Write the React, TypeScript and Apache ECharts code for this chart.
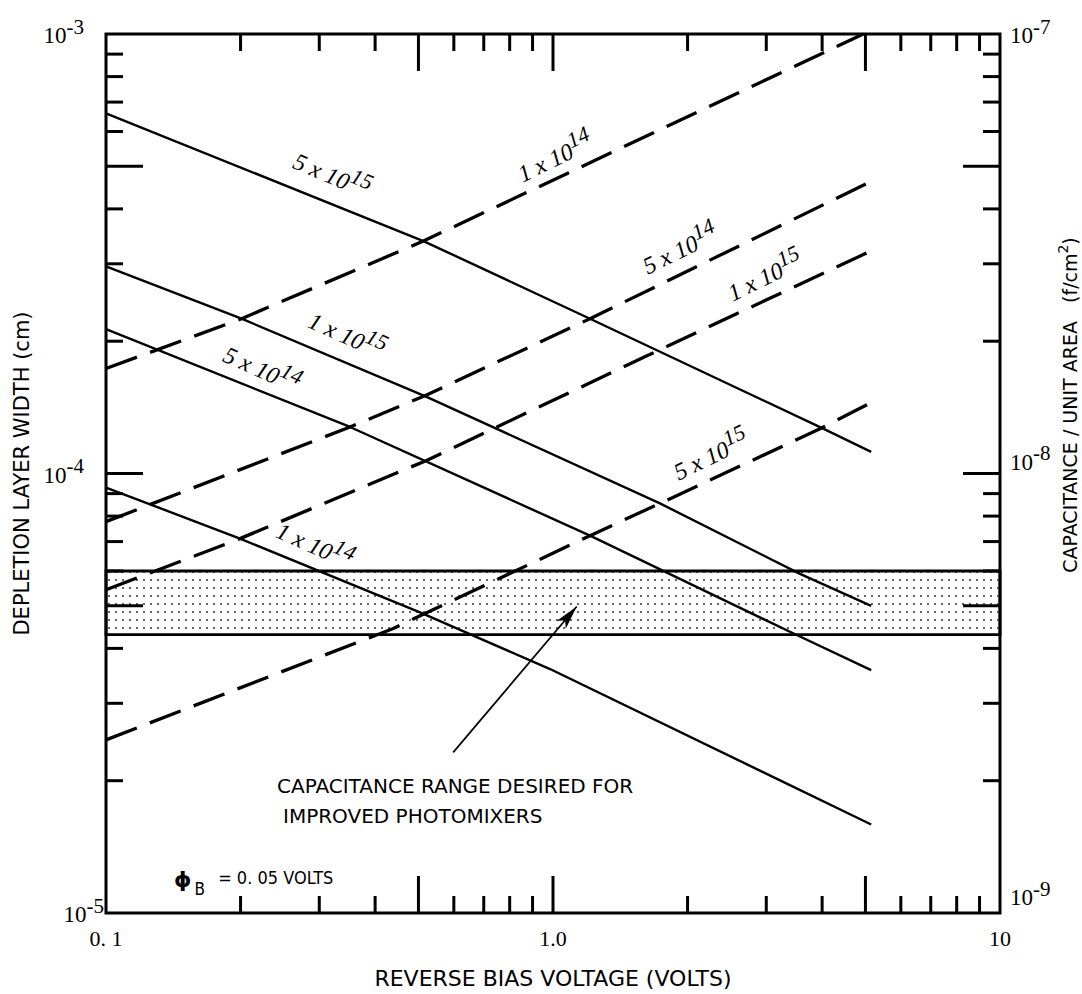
import React, { useEffect, useRef } from "react";
import * as echarts from "echarts";

// Capacitance per unit area (F/cm^2) vs reverse bias voltage (V), right axis
const cap5e15 = [[0.1, 6.6e-8], [0.513, 3.38e-8], [1.21, 2.25e-8], [3.99, 1.27e-8], [5.15, 1.12e-8]];
const cap1e15 = [[0.1, 2.96e-8], [0.201, 2.25e-8], [0.517, 1.5e-8], [1.735, 8.55e-9], [3.57, 5.91e-9], [5.15, 5.0e-9]];
const cap5e14 = [[0.1, 2.13e-8], [0.3515, 1.276e-8], [1.21, 7.22e-9], [3.51, 4.29e-9], [5.15, 3.57e-9]];
const cap1e14 = [[0.1, 9.29e-9], [0.1994, 7.11e-9], [0.504, 4.83e-9], [0.985, 3.59e-9], [5.15, 1.59e-9]];

// Depletion layer width (cm) vs reverse bias voltage (V), left axis
const width1e14 = [[0.1, 1.733e-4], [0.201, 2.25e-4], [0.513, 3.38e-4], [1.082, 4.83e-4], [4.945, 1.0e-3]];
const width5e14 = [[0.1, 7.77e-5], [0.3515, 1.276e-4], [0.517, 1.503e-4], [1.21, 2.25e-4], [5.15, 4.62e-4]];
const width1e15 = [[0.1, 5.44e-5], [0.1994, 7.11e-5], [0.5215, 1.071e-4], [1.631, 1.858e-4], [5.15, 3.21e-4]];
const width5e15 = [[0.1, 2.477e-5], [0.4392, 4.44e-5], [1.21, 7.22e-5], [1.735, 8.55e-5], [3.99, 1.269e-4], [5.15, 1.45e-4]];

// Desired capacitance band (F/cm^2)
const desiredCapRange = [4.3e-9, 6.0e-9];
// Arrow pointing into the band: [volts, F/cm^2]
const arrowFrom = [0.598, 2.32e-9];
const arrowTo = [1.13, 4.98e-9];

// Doping concentrations labelling each curve
const capLabels = [["5 x 10", "15"], ["1 x 10", "15"], ["5 x 10", "14"], ["1 x 10", "14"]];
const widthLabels = [["1 x 10", "14"], ["5 x 10", "14"], ["1 x 10", "15"], ["5 x 10", "15"]];

// Axis ticks and labels
const xTickValues = [0.2, 0.3, 0.4, 0.5, 0.6, 0.7, 0.8, 0.9, 1, 2, 3, 4, 5, 6, 7, 8, 9];
const xLongTicks = [0.5, 1, 5];
const yTickValues = [2e-5, 3e-5, 4e-5, 5e-5, 6e-5, 7e-5, 8e-5, 9e-5, 1e-4, 2e-4, 3e-4, 4e-4, 5e-4, 6e-4, 7e-4, 8e-4, 9e-4];
const yLongTicks = [5e-5, 1e-4, 5e-4];
const xLabelDecades = [-1, 0, 1];
const xLabelTexts = ["0. 1", "1.0", "10"];
const leftDecades = [-5, -4, -3];
const rightDecades = [-9, -8, -7];

const SANS = "'DejaVu Sans', 'Liberation Sans', sans-serif";
const NARROW = "'DejaVu Sans Condensed', 'Liberation Sans Narrow', sans-serif";
const SERIF = "'Liberation Serif', 'DejaVu Serif', serif";

const powRich = {
  b: { fontFamily: SERIF, fontSize: 23, color: "#000", verticalAlign: "bottom", lineHeight: 26 },
  s: { fontFamily: SERIF, fontSize: 21, color: "#000", verticalAlign: "bottom", lineHeight: 26, padding: [0, 0, 10, 0] },
  sp: { width: 20, lineHeight: 26 },
  g8: { lineHeight: 26 },
  g9: { lineHeight: 34 },
};

const labelRich = {
  a: { fontFamily: SERIF, fontStyle: "italic", fontSize: 24, fill: "#000", verticalAlign: "bottom", lineHeight: 26 },
  s: { fontFamily: SERIF, fontStyle: "italic", fontSize: 22, fill: "#000", verticalAlign: "bottom", lineHeight: 26, padding: [0, 0, 10, 0] },
};

function makeStipple(): string {
  const c = document.createElement("canvas");
  c.width = 7;
  c.height = 8;
  const g = c.getContext("2d");
  if (g) {
    g.fillStyle = "#666";
    g.fillRect(3, 3, 2, 2);
  }
  return c.toDataURL();
}

function curveText(x: number, y: number, rot: number, pair: string[]) {
  return {
    type: "text",
    x,
    y,
    rotation: rot,
    z: 20,
    style: {
      text: `{a|${pair[0]}}{s|${pair[1]}}`,
      rich: labelRich,
      fill: "#000",
      textAlign: "center",
      textVerticalAlign: "middle",
      align: "center",
      verticalAlign: "middle",
    },
  };
}

export default function App() {
  const ref = useRef<HTMLDivElement>(null);

  useEffect(() => {
    document.body.style.margin = "0";
    if (!ref.current) return;
    const chart = echarts.init(ref.current, undefined, { renderer: "svg" });

    const solid = (data: number[][]) => ({
      type: "line",
      yAxisIndex: 1,
      data,
      showSymbol: false,
      symbol: "none",
      silent: true,
      lineStyle: { color: "#000", width: 2.4 },
    });
    const dashed = (data: number[][]) => ({
      type: "line",
      yAxisIndex: 0,
      data,
      showSymbol: false,
      symbol: "none",
      silent: true,
      lineStyle: { color: "#000", width: 3.3, type: [33, 14] },
    });

    const TICK_SHORT = 17;
    const TICK_LONG = 37;
    const tickStyle = { stroke: "#000", lineWidth: 3 };

    const option: any = {
      animation: false,
      backgroundColor: "#fff",
      grid: {
        left: 106,
        right: 82,
        top: 34,
        bottom: 68,
        show: true,
        borderColor: "#000",
        borderWidth: 3,
        backgroundColor: "transparent",
      },
      xAxis: {
        type: "log",
        logBase: 10,
        min: 0.1,
        max: 10,
        axisLine: { show: false },
        axisTick: { show: false },
        splitLine: { show: false },
        axisLabel: {
          margin: 14,
          color: "#000",
          fontFamily: SERIF,
          fontSize: 22,
          formatter: (v: number) => {
            const i = xLabelDecades.indexOf(Math.round(Math.log10(v)));
            return i >= 0 ? xLabelTexts[i] : "";
          },
        },
        name: "REVERSE BIAS VOLTAGE (VOLTS)",
        nameLocation: "middle",
        nameGap: 54,
        nameTextStyle: { color: "#000", fontFamily: SANS, fontSize: 22 },
      },
      yAxis: [
        {
          type: "log",
          logBase: 10,
          min: 1e-5,
          max: 1e-3,
          position: "left",
          axisLine: { show: false },
          axisTick: { show: false },
          splitLine: { show: false },
          axisLabel: {
            margin: 2,
            rich: powRich,
            formatter: (v: number) => {
              const e = Math.round(Math.log10(v));
              if (leftDecades.indexOf(e) < 0) return "";
              return e === leftDecades[0] ? `{b|10}{s|${e}}` : `{b|10}{s|${e}}{sp| }`;
            },
          },
          name: "DEPLETION LAYER WIDTH (cm)",
          nameLocation: "middle",
          nameGap: 61,
          nameRotate: 90,
          nameTextStyle: { color: "#000", fontFamily: SANS, fontSize: 21 },
        },
        {
          type: "log",
          logBase: 10,
          min: 1e-9,
          max: 1e-7,
          position: "right",
          axisLine: { show: false },
          axisTick: { show: false },
          splitLine: { show: false },
          axisLabel: {
            margin: 10,
            rich: powRich,
            formatter: (v: number) => {
              const e = Math.round(Math.log10(v));
              if (rightDecades.indexOf(e) < 0) return "";
              if (e === rightDecades[0]) return `{b|10}{s|${e}}\n{g9| }`;
              if (e === rightDecades[1]) return `{b|10}{s|${e}}\n{g8| }`;
              return `{b|10}{s|${e}}`;
            },
          },
        },
      ],
      series: [
        solid(cap5e15),
        solid(cap1e15),
        solid(cap5e14),
        {
          ...solid(cap1e14),
          markArea: {
            silent: true,
            label: { show: false },
            itemStyle: {
              color: { image: makeStipple(), repeat: "repeat" },
              borderColor: "#000",
              borderWidth: 2.8,
            },
            data: [[{ yAxis: desiredCapRange[1] }, { yAxis: desiredCapRange[0] }]],
          },
          markLine: {
            silent: true,
            symbol: ["none", "arrow"],
            symbolSize: [9, 24],
            label: { show: false },
            lineStyle: { color: "#000", width: 1.7, type: "solid" },
            data: [[{ coord: arrowFrom }, { coord: arrowTo }]],
          },
        },
        dashed(width1e14),
        dashed(width5e14),
        dashed(width1e15),
        dashed(width5e15),
        {
          type: "custom",
          silent: true,
          xAxisIndex: 0,
          yAxisIndex: 0,
          encode: { x: 0, y: 2 },
          data: xTickValues.map((v) => [v, xLongTicks.indexOf(v) >= 0 ? 1 : 0, 1e-4]),
          renderItem: (params: any, api: any) => {
            const cs = params.coordSys;
            const px = api.coord([api.value(0), api.value(2)])[0];
            const len = api.value(1) ? TICK_LONG : TICK_SHORT;
            const bottom = cs.y + cs.height;
            return {
              type: "group",
              children: [
                { type: "line", shape: { x1: px, y1: bottom, x2: px, y2: bottom - len }, style: tickStyle },
                { type: "line", shape: { x1: px, y1: cs.y, x2: px, y2: cs.y + len }, style: tickStyle },
              ],
            };
          },
        },
        {
          type: "custom",
          silent: true,
          xAxisIndex: 0,
          yAxisIndex: 0,
          encode: { x: 0, y: 2 },
          data: yTickValues.map((v) => [1, yLongTicks.indexOf(v) >= 0 ? 1 : 0, v]),
          renderItem: (params: any, api: any) => {
            const cs = params.coordSys;
            const py = api.coord([api.value(0), api.value(2)])[1];
            const len = api.value(1) ? TICK_LONG : TICK_SHORT;
            const right = cs.x + cs.width;
            return {
              type: "group",
              children: [
                { type: "line", shape: { x1: cs.x, y1: py, x2: cs.x + len, y2: py }, style: tickStyle },
                { type: "line", shape: { x1: right, y1: py, x2: right - len, y2: py }, style: tickStyle },
              ],
            };
          },
        },
      ],
      graphic: [
        curveText(332, 175, -0.4, capLabels[0]),
        curveText(347, 335, -0.42, capLabels[1]),
        curveText(262, 369, -0.42, capLabels[2]),
        curveText(315, 545, -0.42, capLabels[3]),
        curveText(555, 157, 0.45, widthLabels[0]),
        curveText(680, 249, 0.45, widthLabels[1]),
        curveText(765, 276, 0.45, widthLabels[2]),
        curveText(711, 455, 0.45, widthLabels[3]),
        {
          type: "text",
          x: 1067,
          y: 405,
          rotation: Math.PI / 2,
          style: {
            text: "{t|CAPACITANCE / UNIT AREA   (f/cm}{s|2}{t|)}",
            rich: {
              t: { fontFamily: SANS, fontSize: 19, fill: "#000", verticalAlign: "bottom", lineHeight: 24 },
              s: { fontFamily: SANS, fontSize: 14, fill: "#000", verticalAlign: "bottom", lineHeight: 24, padding: [0, 0, 9, 0] },
            },
            textAlign: "center",
            textVerticalAlign: "middle",
            align: "center",
            verticalAlign: "middle",
          },
        },
        {
          type: "text",
          x: 277,
          y: 786,
          style: {
            text: "CAPACITANCE RANGE DESIRED FOR",
            font: `20px ${SANS}`,
            fill: "#000",
            textVerticalAlign: "middle",
            verticalAlign: "middle",
          },
        },
        {
          type: "text",
          x: 283,
          y: 816,
          style: {
            text: "IMPROVED PHOTOMIXERS",
            font: `20px ${SANS}`,
            fill: "#000",
            textVerticalAlign: "middle",
            verticalAlign: "middle",
          },
        },
        {
          type: "text",
          x: 174,
          y: 881,
          style: {
            text: "{p|ϕ}{b|B}{t| = 0. 05 VOLTS}",
            rich: {
              p: { fontFamily: "'DejaVu Sans', sans-serif", fontWeight: "bold", fontSize: 22, fill: "#000", verticalAlign: "top", lineHeight: 26 },
              b: { fontFamily: NARROW, fontSize: 17, fill: "#000", verticalAlign: "top", lineHeight: 20, padding: [12, 8, 0, 3] },
              t: { fontFamily: NARROW, fontSize: 18, fill: "#000", verticalAlign: "top", lineHeight: 26 },
            },
            textVerticalAlign: "middle",
            verticalAlign: "middle",
          },
        },
      ],
    };

    chart.setOption(option);
    return () => {
      chart.dispose();
    };
  }, []);

  return <div ref={ref} style={{ width: 1082, height: 994 }} />;
}
